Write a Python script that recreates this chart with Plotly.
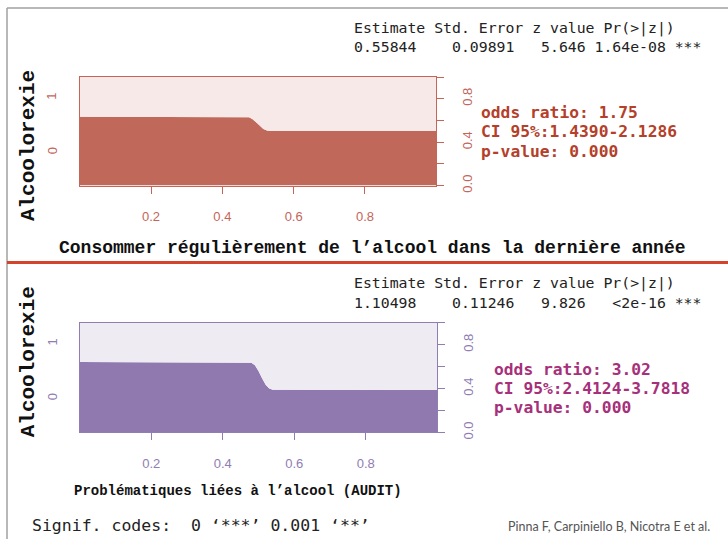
import plotly.graph_objects as go

W, H = 728, 546

# ---- data ----
top_x = [0.0, 0.465, 0.475, 0.485, 0.495, 0.505, 0.515, 0.525, 0.535, 1.0]
top_p0 = [0.634, 0.634, 0.629, 0.612, 0.582, 0.548, 0.522, 0.507, 0.503, 0.503]
bot_x = [0.0, 0.470, 0.480, 0.490, 0.500, 0.510, 0.520, 0.530, 0.540, 1.0]
bot_p0 = [0.642, 0.642, 0.636, 0.612, 0.560, 0.495, 0.435, 0.400, 0.388, 0.387]

x_tickvals = [0.2, 0.4, 0.6, 0.8]
y_tickvals = [0.0, 0.2, 0.4, 0.6, 0.8, 1.0]
y_ticktext = ["0.0", "", "0.4", "", "0.8", ""]
resp_labels = ["1", "0"]

top_xlab = "Consommer régulièrement de l’alcool dans la dernière année"
bot_xlab = "Problématiques liées à l’alcool (AUDIT)"
ylab = "Alcoolorexie"
top_stats = ["Estimate Std. Error z value Pr(>|z|)", "0.55844    0.09891   5.646 1.64e-08 ***"]
bot_stats = ["Estimate Std. Error z value Pr(>|z|)", "1.10498    0.11246   9.826   <2e-16 ***"]
top_or = ["odds ratio: 1.75", "CI 95%:1.4390-2.1286", "p-value: 0.000"]
bot_or = ["odds ratio: 3.02", "CI 95%:2.4124-3.7818", "p-value: 0.000"]
signif = "Signif. codes:  0 ‘***’ 0.001 ‘**’"
credit = "Pinna F, Carpiniello B, Nicotra E et al."

# ---- styles ----
TOP_DARK, TOP_LIGHT, TOP_AX = "#c0685a", "#f6e9e7", "#c4655a"
BOT_DARK, BOT_LIGHT, BOT_AX = "#8f79ae", "#efebf3", "#8f7db3"
TOP_TXT, BOT_TXT = "#b5402a", "#a6307a"


def px(x):
    return x / W


def py(y):
    return 1 - y / H


fig = go.Figure()

panels = [
    dict(x=top_x, p=top_p0, dark=TOP_DARK, light=TOP_LIGHT, ax=TOP_AX, xa="x", ya="y",
         xd=[79.7, 436.3], yd=[78, 188]),
    dict(x=bot_x, p=bot_p0, dark=BOT_DARK, light=BOT_LIGHT, ax=BOT_AX, xa="x2", ya="y2",
         xd=[79.7, 437.3], yd=[327, 438]),
]

for i, pn in enumerate(panels):
    fig.add_trace(go.Scatter(x=pn["x"], y=pn["p"], mode="lines", line=dict(width=0, color=pn["dark"]),
                             fill="tozeroy", fillcolor=pn["dark"], xaxis=pn["xa"], yaxis=pn["ya"],
                             hoverinfo="skip", showlegend=False))
    fig.add_trace(go.Scatter(x=pn["x"], y=[1.0] * len(pn["x"]), mode="lines",
                             line=dict(width=0, color=pn["light"]),
                             fill="tonexty", fillcolor=pn["light"], xaxis=pn["xa"], yaxis=pn["ya"],
                             hoverinfo="skip", showlegend=False))
    sfx = "" if i == 0 else "2"
    xkey, ykey = "xaxis" + sfx, "yaxis" + sfx
    fig.update_layout(**{
        xkey: dict(domain=[px(pn["xd"][0]), px(pn["xd"][1])], range=[0, 1], anchor=pn["ya"],
                   tickvals=x_tickvals, ticks="outside", ticklen=7, tickcolor=pn["ax"],
                   tickfont=dict(family="Liberation Sans", size=13, color=pn["ax"]),
                   showline=True, mirror=True, linecolor=pn["ax"], linewidth=1,
                   showgrid=False, zeroline=False, ticklabelstandoff=12, fixedrange=True),
        ykey: dict(domain=[py(pn["yd"][1]), py(pn["yd"][0])], range=[0, 1], anchor=pn["xa"],
                   side="right", tickvals=y_tickvals, ticktext=y_ticktext, tickangle=-90,
                   ticks="outside", ticklen=7, tickcolor=pn["ax"],
                   tickfont=dict(family="Liberation Sans", size=13, color=pn["ax"]),
                   showline=True, mirror=True, linecolor=pn["ax"], linewidth=1,
                   showgrid=False, zeroline=False, ticklabelstandoff=12, fixedrange=True),
    })

ann = []
# left response labels at the midpoints of the first bin's segments
for pn in panels:
    p0 = pn["p"][0]
    for lab, yv in zip(resp_labels, [(1 + p0) / 2, p0 / 2]):
        ann.append(dict(x=px(52), xref="paper", y=yv, yref=pn["ya"], text=lab, showarrow=False,
                        textangle=-90, font=dict(family="Liberation Sans", size=13, color=pn["ax"]),
                        xanchor="center", yanchor="middle"))

ann.append(dict(x=px(372), y=py(251), xref="paper", yref="paper", text=top_xlab, showarrow=False,
                font=dict(family="Liberation Mono", size=18, color="#111111", weight="bold"),
                xanchor="center", yanchor="middle"))
ann.append(dict(x=px(238), y=py(497), xref="paper", yref="paper", text=bot_xlab, showarrow=False,
                font=dict(family="Liberation Mono", size=14, color="#111111", weight="bold"),
                xanchor="center", yanchor="middle"))
for yc in [148, 367]:
    ann.append(dict(x=px(28), y=py(yc), xref="paper", yref="paper", text=ylab, showarrow=False,
                    textangle=-90, font=dict(family="Liberation Mono", size=21, color="#111111", weight="bold"),
                    xanchor="center", yanchor="middle"))

stat_font = dict(family="DejaVu Sans Mono", size=14.8, color="#222222")
for lines, ys in [(top_stats, [28, 47]), (bot_stats, [287, 306])]:
    for t, yv in zip(lines, ys):
        ann.append(dict(x=px(353), y=py(yv), xref="paper", yref="paper", text=t, showarrow=False,
                        font=stat_font, xanchor="left", yanchor="middle", borderpad=0))

for lines, x0, ys, col in [(top_or, 480, [114, 133.5, 153], TOP_TXT), (bot_or, 493, [374, 393.5, 413], BOT_TXT)]:
    for t, yv in zip(lines, ys):
        ann.append(dict(x=px(x0), y=py(yv), xref="paper", yref="paper", text=t, showarrow=False,
                        font=dict(family="DejaVu Sans Mono", size=16.3, color=col, weight="bold"),
                        xanchor="left", yanchor="middle", borderpad=0))

ann.append(dict(x=px(30), y=py(532), xref="paper", yref="paper", text=signif, showarrow=False,
                font=dict(family="DejaVu Sans Mono", size=16.5, color="#222222"), xanchor="left", yanchor="middle"))
ann.append(dict(x=px(712), y=py(533), xref="paper", yref="paper", text=credit, showarrow=False,
                font=dict(family="Lato", size=12.5, color="#555555"), xanchor="right", yanchor="middle"))

shapes = [
    dict(type="line", xref="paper", yref="paper", x0=px(7), x1=1, y0=py(8), y1=py(8),
         line=dict(color="#a0a0a0", width=1.5)),
    dict(type="line", xref="paper", yref="paper", x0=px(7), x1=px(7), y0=py(8), y1=0,
         line=dict(color="#a0a0a0", width=1.5)),
    dict(type="line", xref="paper", yref="paper", x0=px(7), x1=1, y0=py(266), y1=py(266),
         line=dict(color="#d4442a", width=3)),
]

fig.update_layout(width=W, height=H, margin=dict(l=0, r=0, t=0, b=0), paper_bgcolor="white",
                  plot_bgcolor="white", annotations=ann, shapes=shapes, showlegend=False)

fig.write_html("out.html", config={"displayModeBar": False},
               post_script="document.body.style.margin='0';document.body.style.overflow='hidden';")
